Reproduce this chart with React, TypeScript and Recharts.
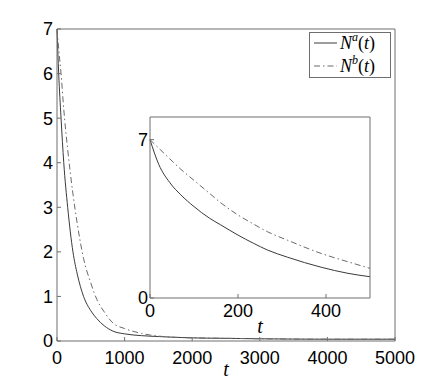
import {
  CartesianGrid,
  Label,
  Legend,
  Line,
  LineChart,
  XAxis,
  YAxis,
} from "recharts";

// main plot, t from 0 to 5000
const tMain = [0, 25, 60, 100, 158, 236, 300, 393, 500, 590, 700, 830, 1000, 1250, 1500, 2000, 2500, 3000, 4000, 5000];
const naMain = [7, 6, 5, 4, 3, 2, 1.5, 1, 0.68, 0.5, 0.34, 0.22, 0.16, 0.12, 0.1, 0.07, 0.06, 0.05, 0.04, 0.04];
const nbMain = [7, 6.55, 6, 5.2, 4.3, 3.3, 2.63, 1.85, 1.3, 0.93, 0.65, 0.4, 0.28, 0.17, 0.11, 0.07, 0.06, 0.05, 0.04, 0.04];

// inset, first 500 time units
const tInset = [0, 20, 45, 70, 100, 135, 160, 200, 235, 267, 313, 389, 450, 500];
const naInset = [7, 5.9, 5.1, 4.56, 4.04, 3.53, 3.24, 2.78, 2.42, 2.12, 1.8, 1.36, 1.09, 0.94];
const nbInset = [7, 6.62, 6.15, 5.69, 5.2, 4.63, 4.22, 3.67, 3.27, 2.93, 2.55, 1.97, 1.6, 1.31];

const mainTicksX = [0, 1000, 2000, 3000, 4000, 5000];
const mainTicksY = [0, 1, 2, 3, 4, 5, 6, 7];
const insetTicksX = [0, 200, 400];
const insetTicksY = [0, 7];

const legendItems = [
  { sup: "a", dash: undefined as string | undefined },
  { sup: "b", dash: "6 3 1.5 3" },
];

const mainData = tMain.map((t, i) => ({ t, a: naMain[i], b: nbMain[i] }));
const insetData = tInset.map((t, i) => ({ t, a: naInset[i], b: nbInset[i] }));

const AXIS = "#6e6e6e";
const SOLID = "#3a3a3a";
const DASHED = "#6a6a6a";
const tickFont = { fill: "#000", fontSize: 18, fontFamily: "Liberation Sans, Arial, sans-serif" };
const labelFont = { fill: "#000", fontSize: 20, fontFamily: "Liberation Serif, serif", fontStyle: "italic" };

function LegendBox() {
  return (
    <svg width={82} height={46} style={{ display: "block", overflow: "visible" }}>
      <rect x={0.5} y={0.5} width={81} height={45} fill="#fff" stroke={AXIS} />
      {legendItems.map((it, i) => {
        const y = 11 + i * 23;
        return (
          <g key={it.sup}>
            <line x1={5} x2={28} y1={y} y2={y} stroke={i === 0 ? SOLID : DASHED} strokeDasharray={it.dash} />
            <text x={31} y={y + 6} fontSize={18} fontFamily="Liberation Serif, serif" fill="#000">
              <tspan fontStyle="italic">N</tspan>
              <tspan fontSize={12} fontStyle="italic" dy={-8}>{it.sup}</tspan>
              <tspan dy={8}>(</tspan>
              <tspan fontStyle="italic">t</tspan>
              <tspan>)</tspan>
            </text>
          </g>
        );
      })}
    </svg>
  );
}

export default function App() {
  return (
    <div style={{ position: "absolute", left: 0, top: 0, width: 436, height: 384, background: "#fff" }}>
      <div style={{ position: "absolute", left: 0, top: 0 }}>
        <LineChart width={436} height={384} data={mainData} margin={{ top: 28, right: 40, left: 0, bottom: 0 }}>
          <XAxis
            dataKey="t"
            type="number"
            domain={[0, 5000]}
            ticks={mainTicksX}
            height={43}
            stroke={AXIS}
            tickSize={-4}
            tickMargin={14}
            tick={tickFont}
          >
            <Label value="t" position="insideBottom" offset={8} style={labelFont} />
          </XAxis>
          <XAxis xAxisId="top" dataKey="t" type="number" domain={[0, 5000]} ticks={mainTicksX} orientation="top" height={1} stroke={AXIS} tickSize={-4} tick={false} />
          <YAxis
            type="number"
            domain={[0, 7]}
            ticks={mainTicksY}
            width={57}
            stroke={AXIS}
            tickSize={-4}
            tickMargin={8}
            tick={tickFont}
          />
          <YAxis yAxisId="right" type="number" domain={[0, 7]} ticks={mainTicksY} orientation="right" width={1} stroke={AXIS} tickSize={-4} tick={false} />
          <Line type="monotone" dataKey="a" stroke={SOLID} strokeWidth={1} dot={false} isAnimationActive={false} />
          <Line type="monotone" dataKey="b" stroke={DASHED} strokeWidth={1} strokeDasharray="6 3 1.5 3" dot={false} isAnimationActive={false} />
          <Legend
            layout="horizontal"
            verticalAlign="middle"
            align="center"
            content={() => <LegendBox />}
            wrapperStyle={{ position: "absolute", left: 309, top: 32, width: 82, height: 46 }}
          />
        </LineChart>
      </div>
      <div style={{ position: "absolute", left: 0, top: 0 }}>
        <LineChart width={436} height={384} data={insetData} margin={{ top: 116, right: 65, left: 0, bottom: 0 }}>
          <CartesianGrid horizontal={false} vertical={false} fill="#fff" />
          <XAxis
            dataKey="t"
            type="number"
            domain={[0, 500]}
            ticks={insetTicksX}
            height={86}
            stroke={AXIS}
            tickSize={-4}
            tickMargin={10}
            tick={tickFont}
          >
            <Label value="t" position="insideBottom" offset={51} style={labelFont} />
          </XAxis>
          <XAxis xAxisId="top" dataKey="t" type="number" domain={[0, 500]} ticks={insetTicksX} orientation="top" height={1} stroke={AXIS} tickSize={-4} tick={false} />
          <YAxis
            type="number"
            domain={[0, 8]}
            ticks={insetTicksY}
            width={150}
            stroke={AXIS}
            tickSize={-4}
            tickMargin={6}
            tick={tickFont}
          />
          <YAxis yAxisId="right" type="number" domain={[0, 8]} ticks={insetTicksY} orientation="right" width={1} stroke={AXIS} tickSize={-4} tick={false} />
          <Line type="monotone" dataKey="a" stroke={SOLID} strokeWidth={1} dot={false} isAnimationActive={false} />
          <Line type="monotone" dataKey="b" stroke={DASHED} strokeWidth={1} strokeDasharray="6 3 1.5 3" dot={false} isAnimationActive={false} />
        </LineChart>
      </div>
    </div>
  );
}
